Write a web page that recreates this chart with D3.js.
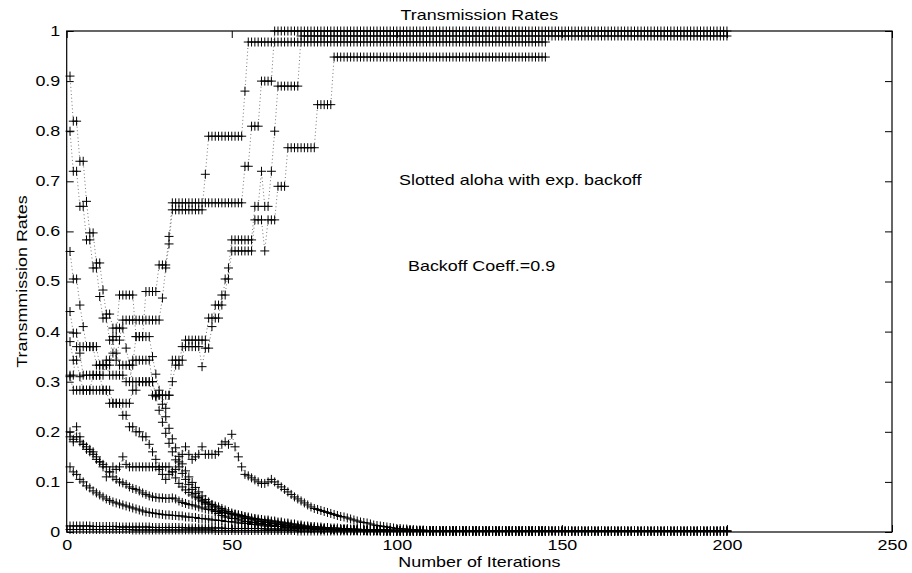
<!DOCTYPE html>
<html>
<head>
<meta charset="utf-8">
<script src="https://cdn.jsdelivr.net/npm/d3@7"></script>
<style>
  body { margin: 0; background: #fff; }
  svg { display: block; }
  text { font-family: "Liberation Sans", Arial, Helvetica, sans-serif; fill: #000; }
</style>
</head>
<body>
<script>
// Transmission rate of each node per iteration, slotted ALOHA with exponential backoff.
// Each series is a list of [iteration, rate] steps: the rate holds until the next step.
const longRunEnd = 200;
const shortRunEnd = 145;

const xTicks = [0, 50, 100, 150, 200, 250];
const yTicks = [0, 0.1, 0.2, 0.3, 0.4, 0.5, 0.6, 0.7, 0.8, 0.9, 1];
const yTickLabels = ["0", "0.1", "0.2", "0.3", "0.4", "0.5", "0.6", "0.7", "0.8", "0.9", "1"];

// --- long run (200 iterations) ---
const nodeA = [[1,0.91],[2,0.82],[4,0.74],[6,0.66],[7,0.597],[9,0.537],[11,0.483],[12,0.435],[14,0.407],[18,0.367],[19,0.333],[21,0.39],[24,0.48],[28,0.533],[31,0.59],[32,0.657],[54,0.73],[56,0.81],[59,0.90],[63,1.0]];
const nodeB = [[1,0.56],[2,0.505],[4,0.453],[5,0.41],[6,0.37],[9,0.333],[14,0.357],[16,0.333],[20,0.30],[27,0.273],[30,0.247],[31,0.273],[32,0.343],[36,0.383],[43,0.427],[47,0.473],[49,0.527],[50,0.583],[57,0.65],[59,0.72],[60,0.65],[62,0.72],[63,0.80],[64,0.89],[71,0.99]];
const nodeC = [[1,0.2],[2,0.18],[3,0.21],[4,0.19],[5,0.175],[6,0.165],[7,0.16],[8,0.155],[9,0.145],[10,0.14],[11,0.13],[12,0.11],[13,0.12],[14,0.13],[15,0.125],[16,0.13],[17,0.15],[18,0.135],[19,0.13],[28,0.125],[29,0.115],[30,0.105],[31,0.115],[32,0.12],[33,0.125],[34,0.14],[35,0.155],[36,0.17],[37,0.155],[38,0.145],[39,0.15],[40,0.155],[41,0.17],[42,0.155],[46,0.16],[47,0.175],[48,0.18],[49,0.175],[50,0.195],[51,0.17],[52,0.15],[53,0.13],[54,0.115],[55,0.112],[56,0.108],[57,0.104],[58,0.1],[59,0.097],[61,0.1],[62,0.105],[63,0.1],[64,0.095],[65,0.09],[66,0.085],[67,0.08],[68,0.075],[69,0.07],[70,0.066],[71,0.062],[72,0.058],[73,0.054],[74,0.05],[75,0.047],[76,0.045],[77,0.043],[78,0.041],[79,0.039],[80,0.037],[81,0.035],[82,0.033],[83,0.031],[84,0.03],[85,0.028],[86,0.026],[87,0.024],[88,0.022],[89,0.02],[90,0.019],[91,0.018],[92,0.016],[93,0.014],[94,0.013],[95,0.012],[96,0.011],[97,0.01],[98,0.009],[99,0.008],[100,0.007],[102,0.006],[104,0.005],[106,0.004],[109,0.003],[113,0.002]];
const nodeD = [[1,0.19],[2,0.185],[3,0.19],[4,0.18],[5,0.175],[6,0.17],[7,0.165],[8,0.16],[9,0.15],[10,0.14],[11,0.135],[12,0.13],[13,0.12],[14,0.11],[15,0.105],[16,0.1],[17,0.098],[18,0.095],[19,0.09],[20,0.087],[21,0.085],[22,0.082],[23,0.078],[24,0.075],[25,0.072],[26,0.07],[27,0.069],[28,0.068],[30,0.067],[32,0.068],[33,0.066],[34,0.062],[35,0.059],[36,0.057],[37,0.055],[38,0.054],[39,0.052],[40,0.05],[41,0.048],[42,0.046],[43,0.045],[44,0.044],[45,0.042],[46,0.041],[47,0.039],[48,0.038],[49,0.037],[50,0.036],[51,0.035],[52,0.034],[53,0.033],[54,0.031],[55,0.03],[56,0.028],[57,0.027],[58,0.026],[59,0.025],[60,0.024],[62,0.022],[64,0.02],[66,0.018],[68,0.016],[70,0.014],[72,0.012],[74,0.011],[76,0.01],[78,0.009],[80,0.008],[83,0.007],[86,0.006],[89,0.005],[93,0.004],[98,0.003],[105,0.002]];
const nodeE = [[1,0.38],[2,0.343],[4,0.31],[5,0.283],[8,0.313],[12,0.343],[14,0.39],[16,0.473],[21,0.39],[26,0.35],[27,0.315],[28,0.283],[29,0.255],[30,0.23],[31,0.207],[32,0.186],[33,0.168],[34,0.151],[35,0.136],[36,0.122],[37,0.11],[38,0.099],[39,0.089],[40,0.08],[41,0.072],[42,0.065],[43,0.06],[44,0.055],[45,0.05],[46,0.046],[47,0.043],[48,0.04],[49,0.037],[50,0.034],[52,0.03],[54,0.027],[56,0.024],[58,0.021],[60,0.019],[62,0.017],[64,0.015],[66,0.013],[68,0.011],[70,0.01],[73,0.008],[76,0.007],[80,0.005],[85,0.004],[90,0.003],[96,0.002]];
const nodeF = [[1,0.012],[8,0.011],[16,0.01],[26,0.009],[36,0.008],[48,0.007],[60,0.006],[75,0.005],[90,0.004],[105,0.003],[125,0.002],[150,0.001]];

// --- short run (145 iterations) ---
const nodeG = [[1,0.80],[2,0.72],[4,0.65],[6,0.583],[8,0.527],[10,0.47],[11,0.427],[13,0.383],[15,0.343],[16,0.383],[17,0.423],[29,0.467],[30,0.527],[31,0.575],[32,0.643],[42,0.714],[43,0.79],[54,0.88],[55,0.978]];
const nodeH = [[1,0.44],[2,0.397],[4,0.357],[5,0.313],[11,0.283],[13,0.257],[20,0.283],[22,0.30],[26,0.273],[32,0.30],[33,0.333],[35,0.37],[41,0.33],[42,0.367],[44,0.41],[45,0.453],[48,0.505],[50,0.561],[57,0.623],[60,0.561],[61,0.623],[64,0.69],[67,0.767],[76,0.853],[81,0.948]];
const nodeI = [[1,0.13],[2,0.12],[3,0.115],[4,0.105],[5,0.1],[6,0.092],[7,0.088],[8,0.082],[9,0.078],[10,0.074],[11,0.07],[12,0.066],[13,0.063],[14,0.06],[15,0.058],[16,0.056],[17,0.054],[18,0.052],[19,0.05],[20,0.048],[21,0.046],[22,0.044],[23,0.042],[24,0.04],[25,0.039],[26,0.038],[27,0.037],[28,0.036],[29,0.035],[30,0.034],[32,0.033],[34,0.032],[36,0.03],[38,0.029],[40,0.027],[42,0.026],[44,0.024],[46,0.023],[48,0.021],[50,0.02],[52,0.018],[54,0.017],[56,0.015],[58,0.014],[60,0.012],[63,0.011],[66,0.009],[69,0.008],[72,0.007],[76,0.006],[80,0.005],[85,0.004],[90,0.003],[97,0.002]];
const nodeJ = [[1,0.31],[2,0.283],[14,0.257],[17,0.233],[19,0.21],[21,0.2],[23,0.19],[25,0.175],[26,0.16],[27,0.145],[28,0.13],[32,0.12],[33,0.108],[34,0.097],[35,0.09],[36,0.084],[37,0.079],[38,0.074],[39,0.07],[40,0.066],[41,0.062],[42,0.059],[43,0.056],[44,0.054],[45,0.052],[46,0.05],[47,0.047],[48,0.044],[49,0.041],[50,0.038],[51,0.036],[52,0.034],[53,0.032],[54,0.03],[55,0.028],[56,0.026],[58,0.024],[60,0.022],[62,0.02],[64,0.018],[66,0.016],[68,0.014],[70,0.012],[72,0.01],[75,0.008],[78,0.006],[82,0.004],[88,0.003],[95,0.002]];
const nodeK = [[1,0.313],[3,0.37],[10,0.333],[13,0.313],[18,0.30],[20,0.343],[26,0.30],[27,0.27],[28,0.243],[29,0.219],[30,0.197],[31,0.177],[32,0.16],[33,0.144],[34,0.13],[35,0.117],[36,0.105],[37,0.095],[38,0.085],[39,0.077],[40,0.069],[41,0.062],[42,0.056],[43,0.05],[44,0.045],[45,0.041],[46,0.037],[47,0.033],[48,0.03],[50,0.027],[52,0.024],[54,0.021],[56,0.019],[58,0.017],[60,0.015],[62,0.013],[64,0.011],[66,0.01],[69,0.008],[72,0.007],[76,0.005],[80,0.004],[85,0.003],[91,0.002]];
const nodeL = [[1,0.005],[20,0.004],[45,0.003],[70,0.002],[100,0.001]];

const longRun = [nodeA, nodeB, nodeC, nodeD, nodeE, nodeF];
const shortRun = [nodeG, nodeH, nodeI, nodeJ, nodeK, nodeL];

// Expand step lists into one point per iteration.
function expand(steps, last) {
  const pts = [];
  let k = 0;
  for (let it = steps[0][0]; it <= last; it++) {
    while (k + 1 < steps.length && steps[k + 1][0] <= it) k++;
    pts.push([it, steps[k][1]]);
  }
  return pts;
}
const series = longRun.map(s => expand(s, longRunEnd))
  .concat(shortRun.map(s => expand(s, shortRunEnd)));

const W = 912, H = 573;
const plot = { left: 66.7, right: 892, top: 31, bottom: 532 };
const sx = 1.28; // horizontal stretch of the lettering

const svg = d3.select("body").append("svg").attr("width", W).attr("height", H);

const x = d3.scaleLinear().domain([0, 250]).range([plot.left, plot.right]);
const y = d3.scaleLinear().domain([0, 1]).range([plot.bottom, plot.top]);

// dotted connecting lines
const line = d3.line().x(d => x(d[0])).y(d => y(d[1]));
svg.append("g").selectAll("path").data(series).join("path")
  .attr("d", line)
  .attr("fill", "none")
  .attr("stroke", "#666")
  .attr("stroke-width", 0.9)
  .attr("stroke-dasharray", "1,2.6");

// plus markers
const plus = "M-4.5,0H4.5M0,-4.5V4.5";
const mk = svg.append("g").attr("stroke", "#000").attr("stroke-width", 1).attr("fill", "none");
series.forEach(s => {
  mk.append("g").selectAll("path").data(s).join("path")
    .attr("transform", d => `translate(${x(d[0])},${y(d[1])})`)
    .attr("d", plus);
});

// axes: inward ticks on all four sides
const tick = 7;
const gB = svg.append("g").attr("transform", `translate(0,${plot.bottom})`)
  .call(d3.axisBottom(x).tickValues(xTicks).tickSizeInner(-tick).tickSizeOuter(0).tickPadding(8).tickFormat(d3.format("d")));
const gT = svg.append("g").attr("transform", `translate(0,${plot.top})`)
  .call(d3.axisTop(x).tickValues(xTicks).tickSizeInner(-tick).tickSizeOuter(0).tickFormat(""));
const gL = svg.append("g").attr("transform", `translate(${plot.left},0)`)
  .call(d3.axisLeft(y).tickValues(yTicks).tickSizeInner(-tick).tickSizeOuter(0).tickPadding(5)
    .tickFormat((d, i) => yTickLabels[i]));
const gR = svg.append("g").attr("transform", `translate(${plot.right},0)`)
  .call(d3.axisRight(y).tickValues(yTicks).tickSizeInner(-tick).tickSizeOuter(0).tickFormat(""));

[gB, gT, gL, gR].forEach(g => {
  g.select(".domain").remove();
  g.selectAll(".tick line").attr("stroke", "#000").attr("stroke-width", 1);
  g.selectAll(".tick text").attr("font-size", 14).attr("font-family", null)
    .attr("transform", `scale(${sx},1)`);
});

svg.append("rect")
  .attr("x", plot.left).attr("y", plot.top)
  .attr("width", plot.right - plot.left).attr("height", plot.bottom - plot.top)
  .attr("fill", "none").attr("stroke", "#000").attr("stroke-width", 1.2);

function label(txt, px, py, anchor, rot) {
  svg.append("text")
    .attr("transform", `translate(${px},${py})${rot ? " rotate(-90)" : ""} scale(${sx},1)`)
    .attr("text-anchor", anchor)
    .attr("font-size", 14)
    .text(txt);
}
label("Transmission Rates", (plot.left + plot.right) / 2, 20, "middle");
label("Number of Iterations", (plot.left + plot.right) / 2, 567, "middle");
label("Transmmission Rates", 27, (plot.top + plot.bottom) / 2, "middle", true);
label("Slotted aloha with exp. backoff", 399, 185, "start");
label("Backoff Coeff.=0.9", 408, 271, "start");
</script>
</body>
</html>
